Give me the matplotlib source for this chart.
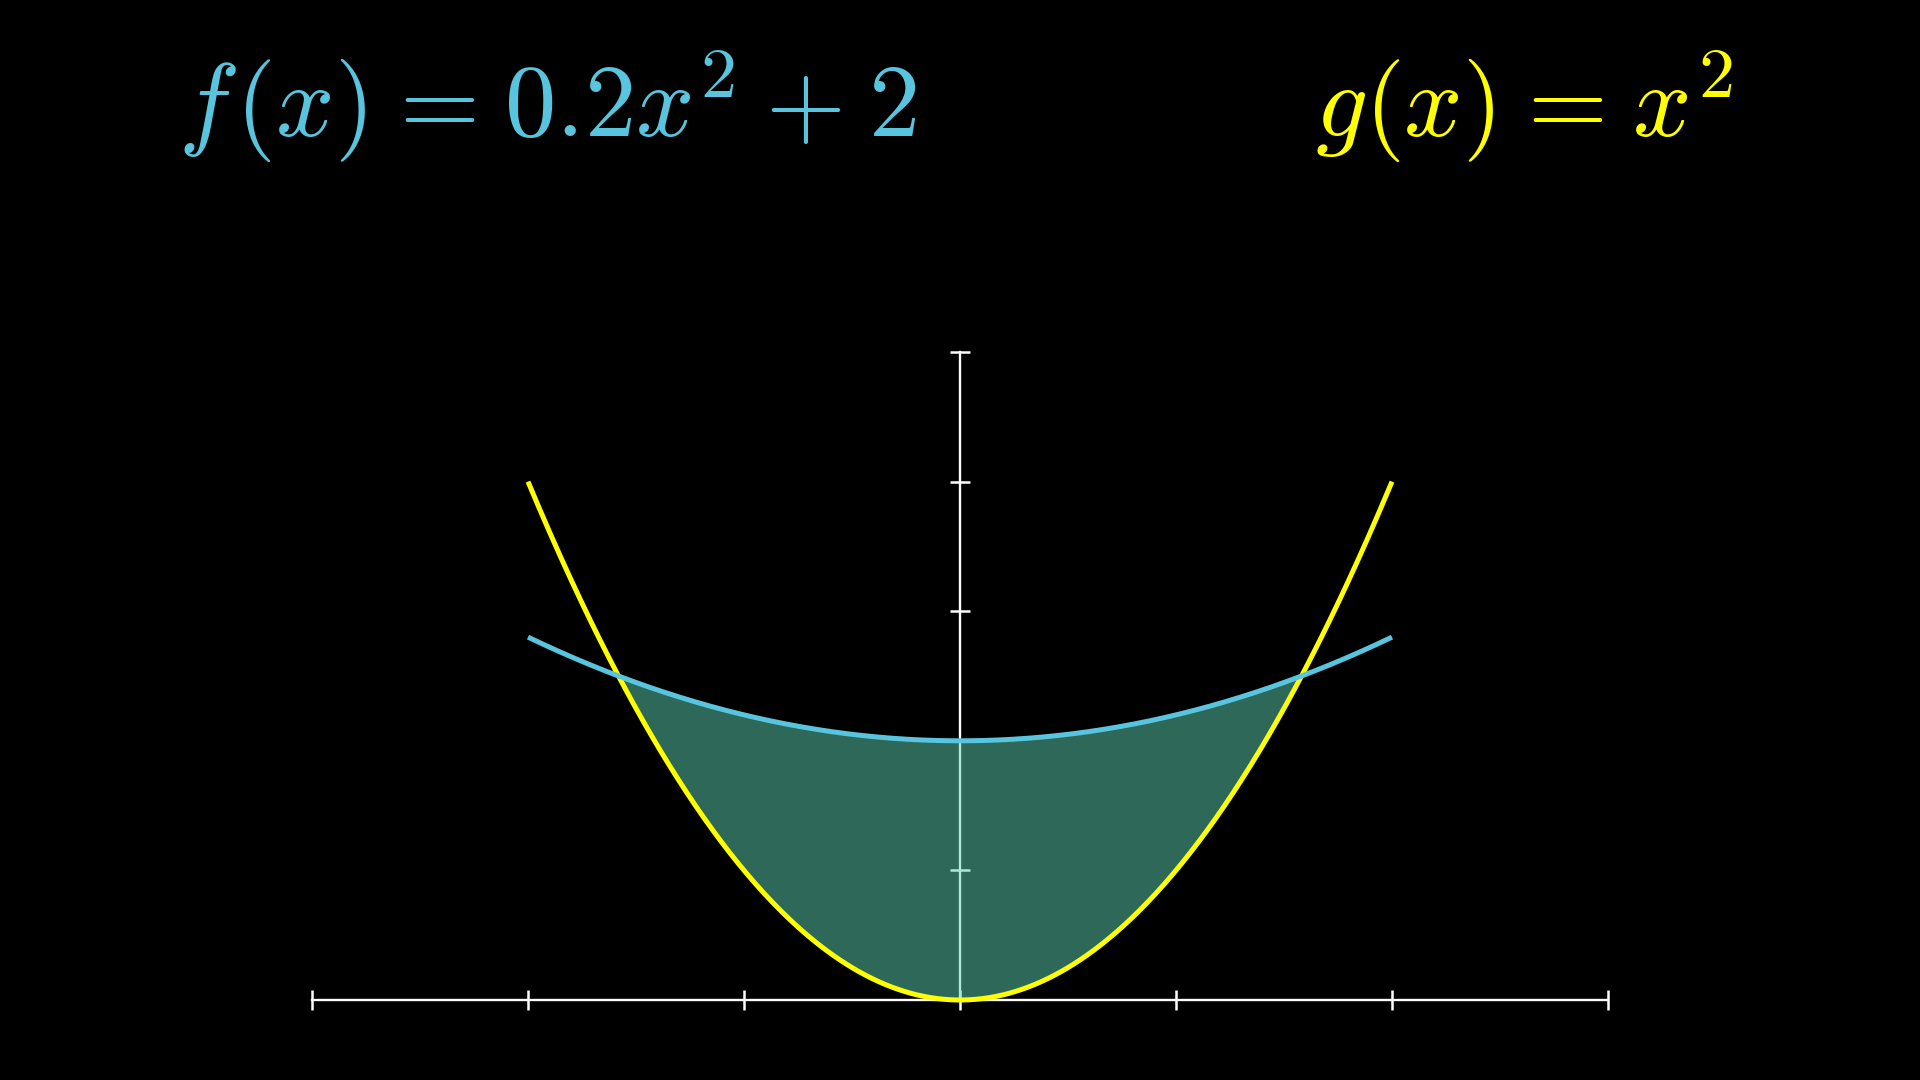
import matplotlib
matplotlib.use("Agg")
import matplotlib.pyplot as plt
import numpy as np

# functions shown on screen: f(x) = 0.2x^2 + 2, g(x) = x^2
f_a = 0.2
f_c = 2.0
g_a = 1.0
curve_range = [-2, 2]
x_ticks = [-3, -2, -1, 0, 1, 2, 3]
y_ticks = [0, 1, 2, 3, 4, 5]
f_label = r"$f\hspace{0.08}(x)\hspace{0.08}=\hspace{0.08}0.2x^2\hspace{0.05}+\hspace{0.05}2$"
g_label = r"$g(x)\hspace{0.08}=\hspace{0.08}x^2$"

BLUE = "#58C4DD"
YELLOW = "#FFFF00"
TEAL = "#5CD0B3"

plt.rcParams['mathtext.fontset'] = 'cm'

fig = plt.figure(figsize=(19.2, 10.8), dpi=100, facecolor="black")
# axes placed so that x=-3..3 and y=0..5 sit where the reference draws them
ax = fig.add_axes([312/1920, 80/1080, 1296/1920, 648/1080])
ax.set_facecolor("black")
ax.set_xlim(x_ticks[0], x_ticks[-1])
ax.set_ylim(y_ticks[0], y_ticks[-1])
ax.axis("off")

# axis lines + ticks
ax.plot([x_ticks[0], x_ticks[-1]], [0, 0], color="white", lw=1.7, zorder=1, clip_on=False)
ax.plot([0, 0], [y_ticks[0], y_ticks[-1]], color="white", lw=1.7, zorder=1, clip_on=False)
ax.plot(x_ticks, [0]*len(x_ticks), ls="none", marker="|", ms=15, mew=1.8,
        color="white", zorder=1, clip_on=False)
ax.plot([0]*(len(y_ticks)-1), y_ticks[1:], ls="none", marker="_", ms=15, mew=1.8,
        color="white", zorder=1, clip_on=False)

xs = np.linspace(curve_range[0], curve_range[1], 400)
fy = f_a*xs**2 + f_c
gy = g_a*xs**2

# area between the two curves, between their crossings
xr = np.sqrt(f_c/(g_a - f_a))
xa = np.linspace(-xr, xr, 400)
ax.fill_between(xa, g_a*xa**2, f_a*xa**2 + f_c, color=TEAL, alpha=0.5, lw=0, zorder=2)

ax.plot(xs, gy, color=YELLOW, lw=3.6, zorder=3, solid_capstyle="butt", clip_on=False)
ax.plot(xs, fy, color=BLUE, lw=3.6, zorder=3, solid_capstyle="butt", clip_on=False)

fig.text(178/1920, 1-137/1080, f_label, color=BLUE, fontsize=74,
         ha="left", va="baseline")
fig.text(1315/1920, 1-137/1080, g_label, color=YELLOW, fontsize=74,
         ha="left", va="baseline")

fig.savefig("out.png", dpi=100, facecolor="black")
